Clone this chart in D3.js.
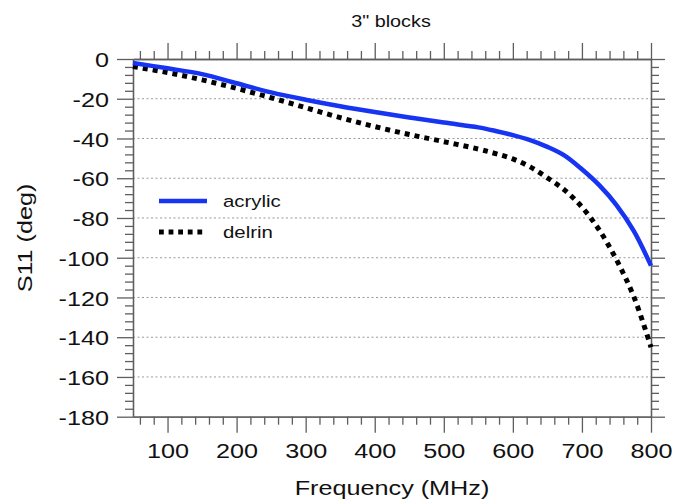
<!DOCTYPE html>
<html>
<head>
<meta charset="utf-8">
<script src="https://cdn.jsdelivr.net/npm/d3@7"></script>
<style>
  html, body { margin: 0; padding: 0; background: #fff; }
  svg { display: block; }
  text { font-family: "Liberation Sans", Arial, Helvetica, sans-serif; fill: #111; }
</style>
</head>
<body>
<svg id="chart" width="675" height="499"></svg>
<script>
// ---- data ----
const freq    = [50, 100, 150, 200, 250, 300, 350, 400, 450, 500, 550, 575, 600, 625, 650, 675, 700, 725, 750, 775, 800];
const acrylic = [-2, -4.7, -7.6, -12.2, -16.8, -20.5, -23.8, -26.7, -29.4, -32.0, -34.4, -36.2, -38.3, -40.8, -44.2, -48.6, -55.5, -63.5, -73.5, -86.5, -104];
const delrin  = [-3.8, -6.8, -10.5, -14.8, -19.5, -24.5, -29.5, -34.0, -38.0, -41.6, -45.3, -47.6, -50.3, -54.3, -59.8, -66.0, -74.5, -86.0, -101.0, -119.5, -145];
const seriesNames = ["acrylic", "delrin"];
const xMajor = [100, 200, 300, 400, 500, 600, 700, 800];
const yMajor = [0, -20, -40, -60, -80, -100, -120, -140, -160, -180];
const yGrid  = [-20, -40, -60, -80, -100, -120, -140, -160];
const titleText = "3\" blocks";
const xLabel = "Frequency (MHz)";
const yLabel = "S11 (deg)";

// ---- layout ----
const W = 675, H = 499;
const m = { left: 133, right: 24, top: 59, bottom: 82.3 };
const iw = W - m.left - m.right, ih = H - m.top - m.bottom;
const SX = 1.2; // horizontal glyph stretch of the original font
const axisColor = "#5e5e5e";

const svg = d3.select("#chart");
const g = svg.append("g").attr("transform", `translate(${m.left},${m.top})`);

const x = d3.scaleLinear().domain([50, 800]).range([0, iw]);
const y = d3.scaleLinear().domain([-180, 0]).range([ih, 0]);

const xMinor = d3.range(60, 801, 20).filter(v => v % 100 !== 0);
const yMinor = d3.range(-176, 0, 4).filter(v => v % 20 !== 0);
const fmt = d => String(d); // plain hyphen minus

// gridlines
g.append("g").selectAll("line").data(yGrid).join("line")
  .attr("x1", 0).attr("x2", iw)
  .attr("y1", d => y(d)).attr("y2", d => y(d))
  .attr("stroke", "#9a9a9a").attr("stroke-width", 1)
  .attr("stroke-dasharray", "2,2.5");

function styleAxis(sel) {
  sel.selectAll("path").attr("stroke", axisColor).attr("stroke-width", 1.3);
  sel.selectAll("line").attr("stroke", axisColor).attr("stroke-width", 1.3);
}

// minor ticks
const minorSize = 8, majorSize = 16;
[["left", 0, 0], ["right", iw, 0]].forEach(([side, tx, ty]) => {
  const ax = (side === "left" ? d3.axisLeft(y) : d3.axisRight(y))
    .tickValues(yMinor).tickSize(minorSize).tickSizeOuter(0).tickFormat("");
  g.append("g").attr("transform", `translate(${tx},${ty})`).call(ax).call(styleAxis);
});
[["top", 0, 0], ["bottom", 0, ih]].forEach(([side, tx, ty]) => {
  const ax = (side === "top" ? d3.axisTop(x) : d3.axisBottom(x))
    .tickValues(xMinor).tickSize(minorSize).tickSizeOuter(0).tickFormat("");
  g.append("g").attr("transform", `translate(${tx},${ty})`).call(ax).call(styleAxis);
});

// major ticks
const yLeft = g.append("g").call(d3.axisLeft(y).tickValues(yMajor).tickSize(majorSize).tickSizeOuter(0).tickFormat(fmt))
  .call(styleAxis);
g.append("g").attr("transform", `translate(${iw},0)`)
  .call(d3.axisRight(y).tickValues(yMajor).tickSize(majorSize - 2).tickSizeOuter(0).tickFormat(""))
  .call(styleAxis);
g.append("g")
  .call(d3.axisTop(x).tickValues(xMajor).tickSize(majorSize).tickSizeOuter(0).tickFormat(""))
  .call(styleAxis);
const xBottom = g.append("g").attr("transform", `translate(0,${ih})`)
  .call(d3.axisBottom(x).tickValues(xMajor).tickSize(majorSize).tickSizeOuter(0).tickFormat(fmt))
  .call(styleAxis);

yLeft.selectAll("text")
  .attr("x", 0).attr("dy", "0.36em")
  .attr("text-anchor", "end")
  .attr("transform", `translate(-24,0) scale(${SX},1)`)
  .style("font-size", "21px").style("font-family", "Liberation Sans, Arial, sans-serif").attr("fill", "#111");
xBottom.selectAll("text")
  .attr("y", 0).attr("dy", 0)
  .attr("text-anchor", "middle")
  .attr("transform", `translate(0,41.5) scale(${SX},1)`)
  .style("font-size", "21px").style("font-family", "Liberation Sans, Arial, sans-serif").attr("fill", "#111");

// lines
const rows = freq.map((f, i) => ({ f, a: acrylic[i], d: delrin[i] }));
const lineA = d3.line().x(d => x(d.f)).y(d => y(d.a)).curve(d3.curveCatmullRom.alpha(0.5));
const lineD = d3.line().x(d => x(d.f)).y(d => y(d.d)).curve(d3.curveCatmullRom.alpha(0.5));

const blue = "#1634f2";
g.append("path").datum(rows).attr("d", lineD)
  .attr("fill", "none").attr("stroke", "#000").attr("stroke-width", 5)
  .attr("stroke-dasharray", "5,5");
g.append("path").datum(rows).attr("d", lineA)
  .attr("fill", "none").attr("stroke", blue).attr("stroke-width", 4.5)
  .attr("stroke-linejoin", "round");

// legend
const legend = svg.append("g");
const legItems = [
  { name: seriesNames[0], color: blue, dash: null, w: 4.5, y: 201 },
  { name: seriesNames[1], color: "#000", dash: "4.8,4.8", w: 4.8, y: 232 }
];
legItems.forEach(it => {
  legend.append("line").attr("x1", 159).attr("x2", 207).attr("y1", it.y).attr("y2", it.y)
    .attr("stroke", it.color).attr("stroke-width", it.w)
    .attr("stroke-dasharray", it.dash);
  legend.append("text").attr("transform", `translate(223,${it.y + 6}) scale(${SX},1)`)
    .style("font-size", "17px").text(it.name);
});

// title & axis labels
svg.append("text").attr("transform", `translate(391,27) scale(${SX},1)`)
  .attr("text-anchor", "middle").style("font-size", "16.5px").text(titleText);
svg.append("text").attr("transform", `translate(392,495) scale(${SX},1)`)
  .attr("text-anchor", "middle").style("font-size", "21px").text(xLabel);
svg.append("text").attr("transform", `translate(32,238) rotate(-90) scale(${SX},1)`)
  .attr("text-anchor", "middle").style("font-size", "21px").text(yLabel);
</script>
</body>
</html>
